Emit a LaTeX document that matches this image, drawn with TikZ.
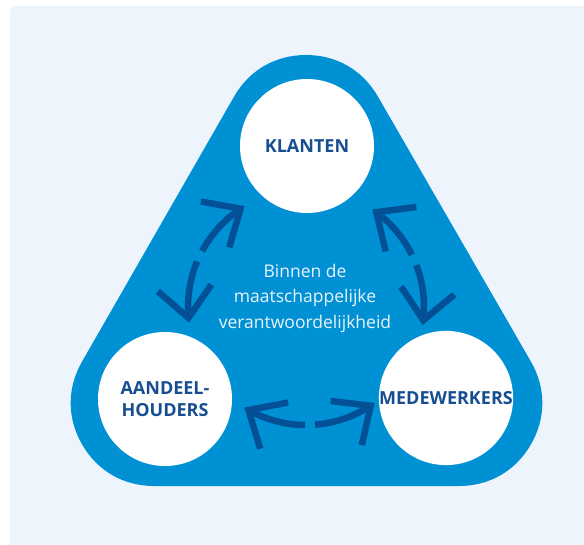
\documentclass[tikz,border=0pt]{standalone}
\usepackage{fontspec}
\setmainfont{Open Sans}
\usetikzlibrary{arrows.meta,bending}

\definecolor{panelbg}{RGB}{237,244,252}
\definecolor{tribg}{RGB}{0,145,213}
\definecolor{darkblue}{RGB}{4,80,150}
\definecolor{labelblue}{RGB}{22,78,145}
\definecolor{softwhite}{RGB}{234,242,250}

\tikzset{
  party/.style={circle, fill=white, minimum size=134pt, inner sep=0pt,
    text=labelblue, font=\bfseries\fontsize{18}{22}\selectfont, align=center},
  relarrow/.style={darkblue, line width=6.5pt,
    -{Straight Barb[length=30pt, width=54pt, sharp]}},
}

\begin{document}
\begin{tikzpicture}[x=1pt, y=1pt]
\useasboundingbox (0,0) rectangle (584,544);
\fill[panelbg, rounded corners=6pt] (10,-20) rectangle (604,538);

% rounded triangle behind the three circles
\filldraw[tribg, line width=166pt, line join=round]
  (306,406) -- (154,141) -- (459,141) -- cycle;

\node[party] (klanten) at (307,398) {KLANTEN};
\node[party] (aandeel) at (165,145) {AANDEEL-\\HOUDERS};
\node[party] (medewerkers) at (446,146) {MEDEWERKERS};

\node[font=\fontsize{17.5}{25.5}\selectfont, text=softwhite, align=center]
  (csr) at (305,246) {Binnen de\\maatschappelijke\\verantwoordelijkheid};

\coordinate (hub) at (306,237);
% klanten -- aandeelhouders
\draw[relarrow] ([shift={(151.7:118)}]hub) arc[start angle=151.7, end angle=121.3, radius=118];
\draw[relarrow] ([shift={(157.3:118)}]hub) arc[start angle=157.3, end angle=187.6, radius=118];
% aandeelhouders -- medewerkers
\draw[relarrow] ([shift={(269.6:118)}]hub) arc[start angle=269.6, end angle=238.5, radius=118];
\draw[relarrow] ([shift={(274.4:118)}]hub) arc[start angle=274.4, end angle=305.6, radius=118];
% medewerkers -- klanten
\draw[relarrow] ([shift={(26.2:118)}]hub) arc[start angle=26.2, end angle=55.8, radius=118];
\draw[relarrow] ([shift={(20.8:118)}]hub) arc[start angle=20.8, end angle=-8.8, radius=118];
\end{tikzpicture}
\end{document}
